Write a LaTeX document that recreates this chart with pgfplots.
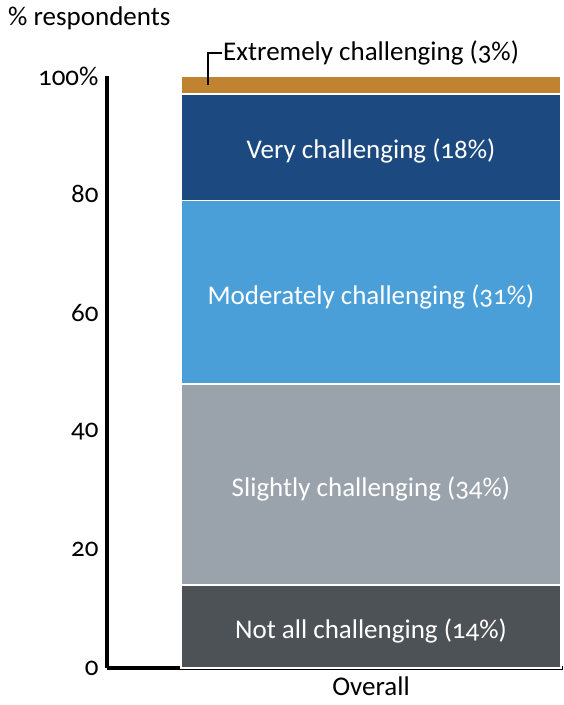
\documentclass[border=0pt]{standalone}
\usepackage{pgfplots}
\pgfplotsset{compat=1.18}
\usepackage{fontspec}
\setmainfont{Carlito}[Numbers=OldStyle]

\definecolor{cNot}{HTML}{4D5257}
\definecolor{cSlight}{HTML}{9AA3AC}
\definecolor{cModer}{HTML}{4A9FD8}
\definecolor{cVery}{HTML}{1C4A80}
\definecolor{cExtr}{HTML}{C0832F}

\newcommand{\lbl}{\fontsize{27}{31}\selectfont}

\begin{document}
\begin{tikzpicture}
\begin{axis}[
  scale only axis,
  width=456pt, height=592pt,
  xmin=0, xmax=456,
  ymin=0, ymax=100,
  clip=false,
  axis x line*=bottom, axis y line*=left,
  axis line style={line width=3.5pt},
  ytick={0,20,40,60,80,100},
  yticklabels={\textnormal{0},\textnormal{20},\textnormal{40},\textnormal{60},\textnormal{80},\textnormal{100\%}},
  xtick={264}, xticklabels={\textnormal{Overall}},
  major tick length=0pt,
  /pgf/number format/assume math mode=true,
  tick label style={font=\lbl},
  yticklabel style={xshift=-5pt},
  xticklabel style={yshift=-8pt, inner sep=1pt},
  ybar stacked,
  bar width=380,
  after end axis/.code={
    \node[font=\lbl, text=white] at (axis cs:264,6.2)  {Not all challenging (14\%)};
    \node[font=\lbl, text=white] at (axis cs:264,30.2) {Slightly challenging (34\%)};
    \node[font=\lbl, text=white] at (axis cs:264,62.7) {Moderately challenging (31\%)};
    \node[font=\lbl, text=white] at (axis cs:264,87.3) {Very challenging (18\%)};
    \draw[black, line width=1.5pt] (axis cs:101,98.5) |- (axis cs:115,103.9);
    \node[anchor=west, inner sep=0pt, font=\lbl] at (axis cs:116,103.9) {Extremely challenging (3\%)};
    \node[anchor=west, inner sep=0pt, font=\lbl] at (axis cs:-99,109.8) {\% respondents};
  },
]
\addplot[fill=cNot, draw=white, line width=1.5pt]    coordinates {(264,14)};
\addplot[fill=cSlight, draw=white, line width=1.5pt] coordinates {(264,34)};
\addplot[fill=cModer, draw=white, line width=1.5pt]  coordinates {(264,31)};
\addplot[fill=cVery, draw=white, line width=1.5pt]   coordinates {(264,18)};
\addplot[fill=cExtr, draw=white, line width=1.5pt]   coordinates {(264,3)};
\end{axis}
\pgfresetboundingbox
\path (-107pt,-37pt) rectangle (456pt,668pt);
\end{tikzpicture}
\end{document}
